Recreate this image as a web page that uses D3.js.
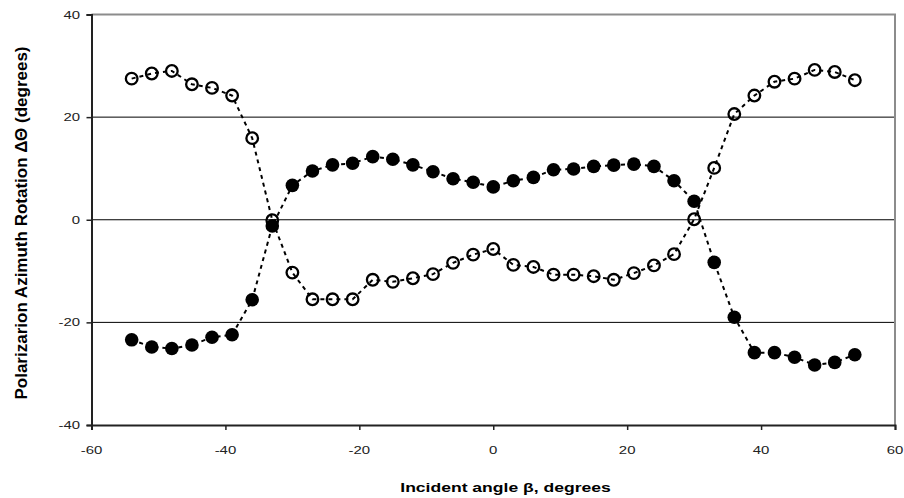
<!DOCTYPE html>
<html>
<head>
<meta charset="utf-8">
<script src="https://cdn.jsdelivr.net/npm/d3@7"></script>
<style>
  body { margin: 0; background: #fff; }
  svg text { font-family: "Liberation Sans", Arial, sans-serif; }
</style>
</head>
<body>
<svg id="chart" width="904" height="498"></svg>
<script>
// incident angles, degrees
const angles = [-54,-51,-48,-45,-42,-39,-36,-33,-30,-27,-24,-21,-18,-15,-12,-9,-6,-3,0,
                3,6,9,12,15,18,21,24,27,30,33,36,39,42,45,48,51,54];
// open circles
const openVals = [27.5,28.5,29.0,26.4,25.7,24.2,15.9,-0.1,-10.3,-15.5,-15.5,-15.5,-11.7,-12.1,-11.4,-10.6,-8.4,-6.8,-5.7,
                  -8.8,-9.2,-10.7,-10.7,-11.0,-11.7,-10.4,-8.9,-6.7,0.1,10.1,20.6,24.2,26.9,27.5,29.2,28.8,27.2];
// filled circles
const filledVals = [-23.4,-24.8,-25.1,-24.4,-22.9,-22.4,-15.6,-1.2,6.7,9.5,10.7,11.0,12.3,11.8,10.7,9.35,8.0,7.3,6.4,
                    7.6,8.25,9.75,9.9,10.4,10.65,10.85,10.4,7.6,3.6,-8.3,-19.0,-25.9,-25.9,-26.8,-28.3,-27.8,-26.3];
const xTicks = [-60,-40,-20,0,20,40,60];
const yTicks = [-40,-20,0,20,40];

const m = {left: 91.5, right: 895, top: 14.5, bottom: 425};
const stretch = 1.3;   // labels in the picture are wide
const svg = d3.select("#chart");

const x = d3.scaleLinear().domain([-60, 60]).range([m.left, m.right]);
const y = d3.scaleLinear().domain([-40, 40]).range([m.bottom, m.top]);

// gridlines
svg.append("g").selectAll("line")
    .data(yTicks.filter(d => d > -40 && d < 40))
    .join("line")
    .attr("x1", m.left).attr("x2", m.right)
    .attr("y1", d => y(d)).attr("y2", d => y(d))
    .attr("stroke", "#000").attr("stroke-width", 1);

// grey frame top / right
svg.append("path")
    .attr("d", `M${m.left},${m.top}H${m.right}V${m.bottom}`)
    .attr("fill", "none").attr("stroke", "#8c8c8c").attr("stroke-width", 2);

// axes (labels drawn separately)
const yAxis = svg.append("g")
    .attr("transform", `translate(${m.left},0)`)
    .call(d3.axisLeft(y).tickValues(yTicks).tickSize(5).tickFormat(""));
const xAxis = svg.append("g")
    .attr("transform", `translate(0,${m.bottom})`)
    .call(d3.axisBottom(x).tickValues(xTicks).tickSize(5).tickFormat(""));
[yAxis, xAxis].forEach(a => {
    a.select(".domain").attr("stroke", "#222").attr("stroke-width", 2);
    a.selectAll(".tick line").attr("stroke", "#222").attr("stroke-width", 1.5);
});

svg.append("g").selectAll("text")
    .data(yTicks)
    .join("text")
    .attr("transform", d => `translate(80,${y(d) + 4}) scale(${stretch},1)`)
    .attr("text-anchor", "end")
    .attr("font-size", 11.5).attr("fill", "#222")
    .text(d => d);

svg.append("g").selectAll("text")
    .data(xTicks)
    .join("text")
    .attr("transform", d => `translate(${x(d)},453.5) scale(${stretch},1)`)
    .attr("text-anchor", "middle")
    .attr("font-size", 11.5).attr("fill", "#222")
    .text(d => d);

const line = d3.line().x(d => x(d[0])).y(d => y(d[1]));
const openData = angles.map((a, i) => [a, openVals[i]]);
const filledData = angles.map((a, i) => [a, filledVals[i]]);

[openData, filledData].forEach(data => {
    svg.append("path")
        .datum(data)
        .attr("d", line)
        .attr("fill", "none")
        .attr("stroke", "#000")
        .attr("stroke-width", 2)
        .attr("stroke-dasharray", "4,4");
});

svg.append("g").selectAll("circle")
    .data(openData)
    .join("circle")
    .attr("cx", d => x(d[0])).attr("cy", d => y(d[1]))
    .attr("r", 5.8)
    .attr("fill", "none").attr("stroke", "#000").attr("stroke-width", 2.3);

svg.append("g").selectAll("circle")
    .data(filledData)
    .join("circle")
    .attr("cx", d => x(d[0])).attr("cy", d => y(d[1]))
    .attr("r", 6.8)
    .attr("fill", "#000");

// titles
svg.append("text")
    .attr("transform", "translate(27,223) rotate(-90)")
    .attr("text-anchor", "middle")
    .attr("font-size", 17).attr("font-weight", "bold")
    .text("Polarizarion Azimuth Rotation ΔΘ (degrees)");

svg.append("text")
    .attr("transform", `translate(505.5,492) scale(${stretch},1)`)
    .attr("text-anchor", "middle")
    .attr("font-size", 13.5).attr("font-weight", "bold")
    .text("Incident angle β, degrees");
</script>
</body>
</html>
